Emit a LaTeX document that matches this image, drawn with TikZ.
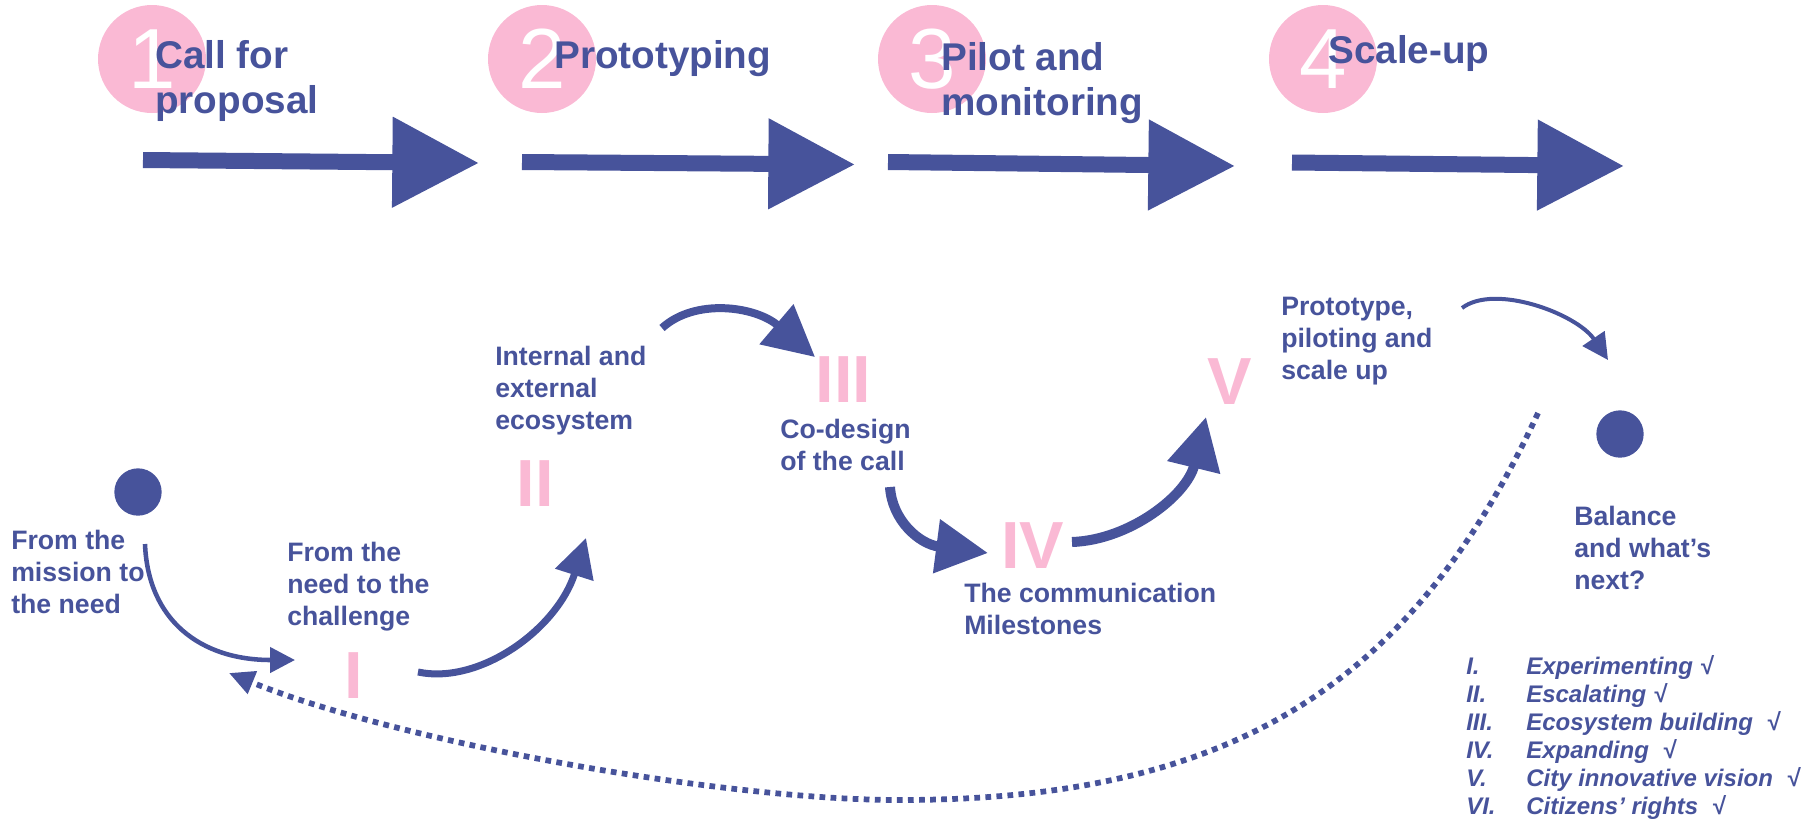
\documentclass[tikz,border=0pt]{standalone}
\usepackage{fontspec}
\setmainfont{Liberation Sans}
\usetikzlibrary{arrows.meta}
\definecolor{navy}{RGB}{71,83,155}
\definecolor{blush}{RGB}{250,185,212}
\tikzset{
  stage/.style={circle, fill=blush, minimum size=81pt, inner sep=0pt, text=white, font=\fontsize{64pt}{64pt}\selectfont},
  stagetitle/.style={anchor=north west, inner sep=0pt, align=left, text=navy, font=\fontsize{29pt}{34pt}\selectfont\bfseries},
  note/.style={anchor=north west, inner sep=0pt, align=left, text=navy, font=\fontsize{20pt}{24pt}\selectfont\bfseries},
  numeral/.style={inner sep=0pt, text=blush, font=\fontsize{50pt}{50pt}\selectfont\bfseries},
  spot/.style={circle, fill=navy, minimum size=35.5pt, inner sep=0pt},
  bigarrow/.style={navy, line width=12pt, -{Triangle[length=65pt, width=65pt]}},
  flow/.style 2 args={navy, line width=#1, -{Triangle[length=#2, width=#2]}},
  loopback/.style={navy, line width=4.3pt, dash pattern=on 4.3pt off 4pt, -{Triangle[length=19pt, width=17.5pt]}}
}
\begin{document}
\begin{tikzpicture}[x=0.75pt,y=0.75pt,yscale=-1,xscale=1]
\useasboundingbox (0,0) rectangle (1813,819);

%Shape: Circle
\node[stage] (st1) at (152,59) {1};
\node[stage] (st2) at (542,59) {2};
\node[stage] (st3) at (932,59) {3};
\node[stage] (st4) at (1323,59) {4};

% Text Node
\node[stagetitle] (call) at (155,40) {Call for\\proposal};
\node[stagetitle] (proto) at (554,40) {Prototyping};
\node[stagetitle] (pilot) at (941,42) {Pilot and\\monitoring};
\node[stagetitle] (scale) at (1328,35) {Scale-up};

%Straight Lines
\coordinate (b1s) at (143,160);
\coordinate (b1e) at (479,163);
\coordinate (b2s) at (522,162);
\coordinate (b2e) at (855,164.5);
\coordinate (b3s) at (888,162);
\coordinate (b3e) at (1235,166);
\coordinate (b4s) at (1292,162.5);
\coordinate (b4e) at (1624,166);
\draw[bigarrow] (b1s) -- (b1e);
\draw[bigarrow] (b2s) -- (b2e);
\draw[bigarrow] (b3s) -- (b3e);
\draw[bigarrow] (b4s) -- (b4e);

%Shape: Circle
\node[spot] (start) at (138,492) {};
\node[spot] (finish) at (1620,434) {};

% Text Node
\node[numeral] (n1) at (353.5,676) {I};
\node[numeral] (n2) at (535,483.5) {II};
\node[numeral] (n3) at (843.5,380) {III};
\node[numeral] (n4) at (1032.5,546) {IV};
\node[numeral] (n5) at (1230,382) {V};

% Text Node
\node[note] (mission) at (11,530) {From the\\mission to\\the need};
\node[note] (challenge) at (287,542) {From the\\need to the\\challenge};
\node[note] (ecosys) at (495,346) {Internal and\\external\\ecosystem};
\node[note] (codesign) at (780,419) {Co-design\\of the call};
\node[note] (comms) at (964,583) {The communication\\Milestones};
\node[note] (pps) at (1281,297) {Prototype,\\piloting and\\scale up};
\node[note] (balance) at (1574,506) {Balance\\and what’s\\next?};

%Curve Lines
\coordinate (a1s) at (145,544);
\coordinate (a1e) at (295,660);
\coordinate (a2s) at (418,672);
\coordinate (a2e) at (586,538);
\coordinate (a3s) at (662,328);
\coordinate (a3e) at (815,357);
\coordinate (a4s) at (890,487);
\coordinate (a4e) at (988,553);
\coordinate (a5s) at (1072,542);
\coordinate (a5e) at (1206,417);
\coordinate (a6s) at (1462,308);
\coordinate (a6e) at (1608,360);
\draw[flow={3.4pt}{18.75pt}] (a1s) .. controls (148,620) and (200,660) .. (a1e);
\draw[flow={5.25pt}{29pt}] (a2s) .. controls (480,685) and (557,629) .. (a2e);
\draw[flow={6pt}{38pt}] (a3s) .. controls (695,298) and (755,306) .. (a3e);
\draw[flow={7.5pt}{39pt}] (a4s) .. controls (892,520) and (919,544) .. (a4e);
\draw[flow={7.5pt}{39pt}] (a5s) .. controls (1130,540) and (1187,495) .. (a5e);
\draw[flow={3pt}{19.5pt}] (a6s) .. controls (1495,283) and (1577,314) .. (a6e);

%Curve Lines
\coordinate (rs) at (1538,413);
\coordinate (rm) at (900,800);
\coordinate (re) at (229,673);
\draw[loopback] (rs) .. controls (1412,686) and (1230,800) .. (rm) .. controls (720,800) and (395,741) .. (re);

% Text Node
\node[anchor=north west, inner sep=0pt, align=left, text=navy, font=\fontsize{18pt}{21pt}\selectfont\bfseries\itshape] (recap) at (1466,655)
  {\makebox[45pt][l]{I.}Experimenting √\\
   \makebox[45pt][l]{II.}Escalating √\\
   \makebox[45pt][l]{III.}Ecosystem building \ √\\
   \makebox[45pt][l]{IV.}Expanding \ √\\
   \makebox[45pt][l]{V.}City innovative vision \ √\\
   \makebox[45pt][l]{VI.}Citizens’ rights \ √};

\end{tikzpicture}
\end{document}
